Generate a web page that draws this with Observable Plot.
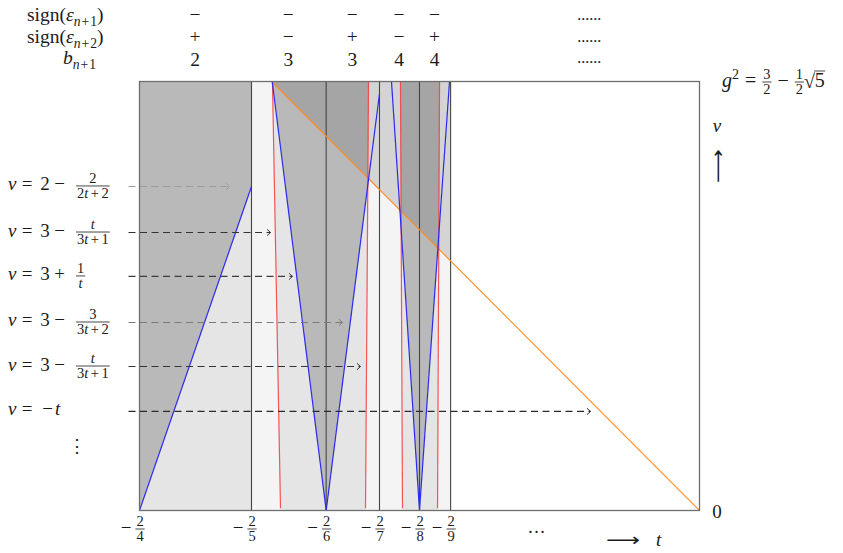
<!DOCTYPE html>
<html><head><meta charset="utf-8">
<script src="https://cdn.jsdelivr.net/npm/d3@7"></script>
<script src="https://cdn.jsdelivr.net/npm/@observablehq/plot@0.6"></script>
<style>
html,body{margin:0;padding:0;background:#fff;}
#chart svg{display:block;}
</style></head><body><div id="chart"></div>
<script>
// ---------------- data ----------------
const G2 = 1.5 - Math.sqrt(5) / 2;            // g^2, top of the v range
const colK = [4, 5, 6, 7, 8, 9];              // column boundaries t = -2/k
const signEps1 = ["−", "−", "−", "−", "−"];
const signEps2 = ["+", "−", "+", "−", "+"];
const digitB = ["2", "3", "3", "4", "4"];
// blue boundary segments (t1,v1) -> (t2,v2)
const blueT1 = [-0.5, -0.3815, -0.3333, -0.2750, -0.25];
const blueV1 = [0, G2, 0, G2, 0];
const blueT2 = [-0.4, -0.3333, -0.2857, -0.25, -0.2232];
const blueV2 = [0.2885, 0, 0.3713, 0, G2];
// red boundary segments: t at the top (v = g^2) and at the bottom
const redTopT = [-0.3813, -0.2955, -0.2670, -0.2321];
const redBotT = [-0.3741, -0.2982, -0.2652, -0.2339];
const redBotV = [0.002, 0.002, 0.002, 0.002];
// orange diagonal v = -t
const orangeT = [-G2, 0];
// dashed arrows: v level and end t
const arrowV = [0.2885, 0.2475, 0.2084, 0.1674, 0.1282, 0.0882];
const arrowEndT = [-0.4196, -0.3830, -0.3634, -0.3188, -0.3027, -0.0973];
const arrowStartT = -0.5098;
// left labels  v = c op num/den
const labelConst = ["2", "3", "3", "3", "3"];
const labelOp = ["−", "−", "+", "−", "−"];
const labelNum = ["2", "t", "1", "3", "t"];
const labelDen = ["2t+2", "3t+1", "t", "3t+2", "3t+1"];

// ---------------- styles ----------------
const FONT = "'Liberation Serif','Times New Roman',serif";
const arrowStroke = ["#9c9c9c", "#333", "#3c3c3c", "#7a7a7a", "#333", "#2a2a2a"];
const FILL = {base: "#f4f4f4", light: "#e5e5e5", medium: "#b9b9b9", dark: "#a5a5a5", mid: "#d4d4d4"};

// ---------------- geometry from data ----------------
const c = colK.map(k => -2 / k);
function orangeCross(i) { // red line i meets v = -t
  const tb = redBotT[i], tt = redTopT[i];
  const v = -tb / (1 + (tt - tb) / G2);
  return [-v, v];
}
const P = redTopT.map((_, i) => orangeCross(i));
const polys = {base: [], light: [], medium: [], dark: [], mid: []};
polys.base.push([[c[0], 0], [c[5], 0], [c[5], G2], [c[0], G2]]);
polys.light.push([[c[0], 0], [c[1], 0], [c[1], G2], [c[0], G2]]);
polys.light.push([[redTopT[0], G2], [redBotT[0], 0], [c[2], 0], [c[2], G2]]);
polys.light.push([[c[2], G2], [c[2], 0], [redBotT[1], 0], [redTopT[1], G2]]);
polys.light.push([[redTopT[2], G2], [redBotT[2], 0], [c[4], 0], [c[4], G2]]);
polys.light.push([[c[4], G2], [c[4], 0], [redBotT[3], 0], [redTopT[3], G2]]);
polys.medium.push([[blueT1[0], blueV1[0]], [blueT2[0], blueV2[0]], [c[1], G2], [c[0], G2]]);
polys.medium.push([[blueT1[1], blueV1[1]], [blueT2[1], blueV2[1]], [c[2], G2]]);
polys.medium.push([[blueT1[2], blueV1[2]], [blueT2[2], blueV2[2]], [c[3], G2], [c[2], G2]]);
polys.medium.push([[blueT1[3], blueV1[3]], [blueT2[3], blueV2[3]], [c[4], G2]]);
polys.medium.push([[blueT1[4], blueV1[4]], [blueT2[4], blueV2[4]], [c[4], G2]]);
polys.dark.push([P[0], [redTopT[0], G2], [redTopT[1], G2], P[1]]);
polys.mid.push([P[1], [redTopT[1], G2], [redTopT[2], G2], P[2]]);
polys.dark.push([P[2], [redTopT[2], G2], [redTopT[3], G2], P[3]]);
polys.mid.push([P[3], [redTopT[3], G2], [c[5], G2], [c[5], -c[5]]]);
function rows(list) { return list.flatMap((pts, id) => pts.map(([t, v]) => ({id, t, v}))); }
const polyMarks = ["base", "light", "medium", "dark", "mid"].map(key =>
  Plot.line(rows(polys[key]), {x: "t", y: "v", z: "id", fill: FILL[key], stroke: "none", curve: "linear-closed"}));

const redIdx = d3.range(redTopT.length), blueIdx = d3.range(blueT1.length), arrIdx = d3.range(arrowV.length);
const chevron = {draw(ctx, size) { const r = Math.sqrt(size / Math.PI); ctx.moveTo(-r * 1.1, -r); ctx.lineTo(0, 0); ctx.lineTo(-r * 1.1, r); }};

const chart = Plot.plot({
  width: 843, height: 553,
  marginLeft: 139, marginRight: 144, marginTop: 81, marginBottom: 43,
  x: {domain: [-0.5, 0], axis: null},
  y: {domain: [0, G2], axis: null},
  style: {background: "white", overflow: "visible"},
  marks: [
    ...polyMarks,
    Plot.ruleX(c.slice(1), {y1: 0, y2: G2, stroke: "#444", strokeWidth: 1.1}),
    Plot.link([0], {x1: orangeT[0], y1: -orangeT[0], x2: orangeT[1], y2: -orangeT[1], stroke: "#ff8a1c", strokeWidth: 1.1}),
    Plot.link(redIdx, {x1: i => redTopT[i], y1: G2, x2: i => redBotT[i], y2: i => redBotV[i], stroke: "#f43a3a", strokeOpacity: 0.85, strokeWidth: 1.2}),
    Plot.link(blueIdx, {x1: i => blueT1[i], y1: i => blueV1[i], x2: i => blueT2[i], y2: i => blueV2[i], stroke: "#2b2bee", strokeWidth: 1.2}),
    Plot.frame({stroke: "#6e6e6e", strokeWidth: 1.3}),
    Plot.link(arrIdx, {x1: arrowStartT, x2: i => arrowEndT[i], y1: i => arrowV[i], y2: i => arrowV[i], stroke: i => arrowStroke[i], strokeWidth: 1.2, strokeDasharray: "7,4.5"}),
    Plot.dot(arrIdx, {x: i => arrowEndT[i], y: i => arrowV[i], symbol: chevron, r: 3.2, fill: "none", stroke: i => arrowStroke[i], strokeWidth: 1})
  ]
});
document.getElementById("chart").append(chart);

// ---------------- math text, positioned with the plot's scales ----------------
const sx = chart.scale("x"), sy = chart.scale("y");
const X = t => sx.apply(t), Y = v => sy.apply(v);
const root = d3.select(chart).append("g")
  .attr("font-family", FONT).style("font-family", FONT)
  .attr("fill", "#1b1b1b").attr("stroke", "none").attr("text-anchor", "start");

function txt(g, s, x, y, size, o = {}) {
  const e = g.append("text").attr("x", x).attr("y", y).attr("font-size", size)
    .attr("text-anchor", o.anchor || "start").text(s);
  if (o.i) e.attr("font-style", "italic");
  if (o.family) e.style("font-family", o.family);
  return e;
}
function parse(str) { // letters italic, + spaced
  const out = [];
  str.split(/([a-z]|\+)/).filter(s => s).forEach(s => {
    if (/[a-z]/.test(s)) out.push({s, i: 1});
    else if (s === "+") { out.push({gap: 2.5}, {s: "+"}, {gap: 2.5}); }
    else out.push({s});
  });
  return out;
}
function run(g, items, x, y, size) {
  let cx = x;
  for (const it of items) {
    if (it.gap != null) { cx += it.gap; continue; }
    if (it.s != null) {
      const e = txt(g, it.s, cx, y, size, it);
      cx += e.node().getComputedTextLength();
      continue;
    }
    if (it.sub || it.sup) {
      const s2 = size * 0.7;
      cx += run(g, it.sub || it.sup, cx, y + (it.sub ? size * 0.27 : -size * 0.42), s2);
      continue;
    }
    if (it.frac) {
      cx += frac(g, it.frac[0], it.frac[1], cx, y - size * 0.25, size * 0.72);
      continue;
    }
    if (it.sqrt) {
      const e = txt(g, "√", cx, y + 1, size);
      const w = e.node().getComputedTextLength();
      const x0 = cx + w - 0.8;
      const wi = run(g, it.sqrt, x0 + 0.5, y, size);
      const top = y - size * 0.8;
      g.append("line").attr("x1", x0).attr("x2", x0 + wi + 1).attr("y1", top).attr("y2", top).attr("stroke", "#1b1b1b").attr("stroke-width", 0.8);
      cx = x0 + wi + 1;
    }
  }
  return cx - x;
}
function frac(g, num, den, x, axis, size) {
  const gn = g.append("g"), gd = g.append("g");
  const wn = run(gn, num, 0, 0, size), wd = run(gd, den, 0, 0, size);
  const w = Math.max(wn, wd) + 2;
  gn.attr("transform", `translate(${x + (w - wn) / 2},${axis - 3})`);
  gd.attr("transform", `translate(${x + (w - wd) / 2},${axis + size * 0.8})`);
  g.append("line").attr("x1", x).attr("x2", x + w).attr("y1", axis).attr("y2", axis).attr("stroke", "#1b1b1b").attr("stroke-width", 0.8);
  return w;
}

// header rows
const HS = 19.5;
const headY = [21, 43, 64];
const subN = k => [{s: "n", i: 1}, {gap: 1}, {s: "+"}, {gap: 1}, {s: String(k)}];
run(root, [{s: "sign("}, {s: "ε", i: 1}, {sub: subN(1)}, {s: ")"}], 27, headY[0], HS);
run(root, [{s: "sign("}, {s: "ε", i: 1}, {sub: subN(2)}, {s: ")"}], 27, headY[1], HS);
run(root, [{s: "b", i: 1}, {sub: subN(1)}], 63, headY[2], HS);
[signEps1, signEps2, digitB].forEach((row, r) => {
  row.forEach((s, i) => txt(root, s, X((c[i] + c[i + 1]) / 2), headY[r] + (r === 2 ? 2 : 0), HS, {anchor: "middle"}));
  txt(root, "......", X(-0.098), headY[r] - 1, 16, {anchor: "middle"});
});

// left labels
arrowV.forEach((v, i) => {
  const yb = Y(v) + 4.5;
  txt(root, "v", 8, yb, 19, {i: 1});
  txt(root, "=", 27, yb, 19, {anchor: "middle"});
  if (i < labelConst.length) {
    txt(root, labelConst[i], 45, yb, 19, {anchor: "middle"});
    txt(root, labelOp[i], 59.5, yb, 19, {anchor: "middle"});
    frac(root, parse(labelNum[i]), parse(labelDen[i]), 76, Y(v), 14.5);
  } else {
    txt(root, "−", 47.5, yb, 19, {anchor: "middle"});
    txt(root, "t", 55, yb, 19, {i: 1});
  }
});
txt(root, "⋮", 77, Y(arrowV[5]) + 41, 18, {anchor: "middle", family: "'DejaVu Serif',serif"});

// bottom tick labels
colK.forEach(k => {
  const x = X(-2 / k);
  txt(root, "−", x - 13, 534, 19, {anchor: "middle"});
  const gq = root.append("g");
  const w = frac(gq, [{s: "2"}], [{s: String(k)}], 0, 529, 14.5);
  gq.attr("transform", `translate(${x + 1 - w / 2},0)`);
});
txt(root, "…", X(-0.145), 533, 18, {anchor: "middle"});
txt(root, "⟶", 606, 546, 18, {family: "'DejaVu Sans',sans-serif"}).attr("textLength", 34).attr("lengthAdjust", "spacingAndGlyphs");
txt(root, "t", 656, 546, 19, {i: 1});
txt(root, "0", X(0) + 18, 518, 19, {anchor: "middle"});

// right labels
run(root, [{s: "g", i: 1}, {sup: [{s: "2"}]}, {gap: 6}, {s: "="}, {gap: 6}, {frac: [[{s: "3"}], [{s: "2"}]]}, {gap: 6}, {s: "−"}, {gap: 6}, {frac: [[{s: "1"}], [{s: "2"}]]}, {sqrt: [{s: "5"}]}], 722, 87, 20);
txt(root, "v", 717, 132, 19, {i: 1, anchor: "middle"});
txt(root, "⟶", 0, 0, 18, {family: "'DejaVu Sans',sans-serif"}).attr("textLength", 34).attr("lengthAdjust", "spacingAndGlyphs")
  .attr("transform", "translate(724,183) rotate(-90)");
</script></body></html>
